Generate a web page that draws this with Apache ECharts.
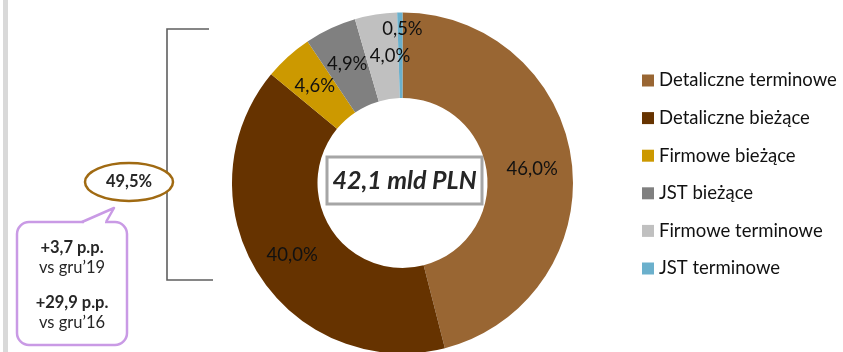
<!DOCTYPE html>
<html>
<head>
<meta charset="utf-8">
<script src="https://cdn.jsdelivr.net/npm/echarts@6/dist/echarts.min.js"></script>
<style>
  html, body { margin: 0; padding: 0; background: #fff; }
  #chart { width: 843px; height: 352px; }
</style>
</head>
<body>
<div id="chart"></div>
<script>
// Deposit structure by segment (shares in %)
const categories = [
  'Detaliczne terminowe',
  'Detaliczne bieżące',
  'Firmowe bieżące',
  'JST bieżące',
  'Firmowe terminowe',
  'JST terminowe'
];
const shares = [46.0, 40.0, 4.6, 4.9, 4.0, 0.5];
const colors = ['#996633', '#663300', '#CC9900', '#808080', '#C0C0C0', '#6BB0CC'];
const totalLabel = '42,1 mld PLN';
// current-account ("bieżące") segments grouped by the bracket
const currentIdx = [1, 2, 3];
const changeLines = [
  { text: '+3,7 p.p.', bold: true },
  { text: 'vs gru\u201919', bold: false },
  { text: '+29,9 p.p.', bold: true },
  { text: 'vs gru\u201916', bold: false }
];

const fmt = v => v.toFixed(1).replace('.', ',') + '%';
const currentShare = currentIdx.reduce((s, i) => s + shares[i], 0);

const FONT = 'Lato, "Noto Sans", sans-serif';
const chart = echarts.init(document.getElementById('chart'), null, { renderer: 'canvas' });

const bubbleTextY = [248, 268, 303, 323];
const BUBBLE = '#C99AE5';

chart.setOption({
  animation: false,
  backgroundColor: '#ffffff',
  color: colors,
  legend: {
    orient: 'vertical',
    left: 637,
    top: 66,
    icon: 'rect',
    itemWidth: 12,
    itemHeight: 12,
    itemGap: 18.6,
    selectedMode: false,
    textStyle: { fontFamily: FONT, fontSize: 18.5, lineHeight: 18, color: '#111111' },
    data: categories
  },
  series: [{
    type: 'pie',
    center: [402.5, 183],
    radius: [85, 170.5],
    startAngle: 90,
    clockwise: true,
    silent: true,
    label: {
      show: true,
      position: 'inside',
      fontFamily: FONT,
      fontSize: 18.5,
      color: '#111111',
      formatter: p => fmt(p.value)
    },
    labelLine: { show: false },
    labelLayout: function (p) {
      if (p.dataIndex === 0) return { dy: 2 };
      if (p.dataIndex === 1) return { dy: 2 };
      if (p.dataIndex === 4) return { dx: 8, dy: 2 };
      if (p.dataIndex === 5) return { dx: 2, dy: -23 };
      return {};
    },
    data: categories.map((c, i) => ({ name: c, value: shares[i] }))
  }],
  graphic: [
    // thin gray strip on the left edge
    { type: 'rect', shape: { x: 3, y: 0, width: 5, height: 352 }, style: { fill: '#D9D9D9' }, silent: true },
    // bracket around the current-account segments
    {
      type: 'polyline',
      shape: { points: [[209, 29], [167, 29], [167, 280], [213, 280]] },
      style: { stroke: '#5f5f5f', lineWidth: 1.6, fill: null },
      silent: true
    },
    // highlighted combined share
    {
      type: 'ellipse',
      shape: { cx: 129, cy: 182, rx: 44, ry: 19 },
      style: { stroke: '#A06A12', lineWidth: 2.5, fill: '#ffffff' },
      silent: true
    },
    {
      type: 'text',
      x: 129, y: 182,
      style: {
        text: fmt(currentShare),
        fontFamily: FONT, fontSize: 16.5, fontWeight: 'bold',
        fill: '#262626', align: 'center', verticalAlign: 'middle'
      },
      silent: true
    },
    // speech bubble with changes
    {
      type: 'rect',
      shape: { x: 17, y: 222, width: 110, height: 123, r: 12 },
      style: { stroke: BUBBLE, lineWidth: 2.5, fill: '#ffffff' },
      silent: true
    },
    {
      type: 'line',
      shape: { x1: 84, y1: 222, x2: 105, y2: 222 },
      style: { stroke: '#ffffff', lineWidth: 4 },
      silent: true
    },
    {
      type: 'polygon',
      shape: { points: [[82, 222], [114, 208], [106, 222]] },
      style: { fill: '#ffffff', stroke: null },
      silent: true
    },
    {
      type: 'polyline',
      shape: { points: [[82, 222], [114, 208], [106, 222]] },
      style: { stroke: BUBBLE, lineWidth: 2.5, fill: null, lineJoin: 'round' },
      silent: true
    },
    ...changeLines.map((l, i) => ({
      type: 'text',
      x: 72, y: bubbleTextY[i],
      style: {
        text: l.text,
        fontFamily: FONT, fontSize: 16.5, fontWeight: l.bold ? 'bold' : 'normal',
        fill: '#262626', align: 'center', verticalAlign: 'middle'
      },
      silent: true
    })),
    // total in the middle of the ring
    {
      type: 'rect',
      shape: { x: 327, y: 157, width: 155, height: 47 },
      style: { stroke: '#A6A6A6', lineWidth: 3, fill: '#ffffff' },
      silent: true
    },
    {
      type: 'text',
      x: 404.5, y: 181,
      style: {
        text: totalLabel,
        fontFamily: FONT, fontSize: 25, fontWeight: 'bold', fontStyle: 'italic',
        fill: '#262626', align: 'center', verticalAlign: 'middle'
      },
      silent: true
    }
  ]
});
</script>
</body>
</html>
